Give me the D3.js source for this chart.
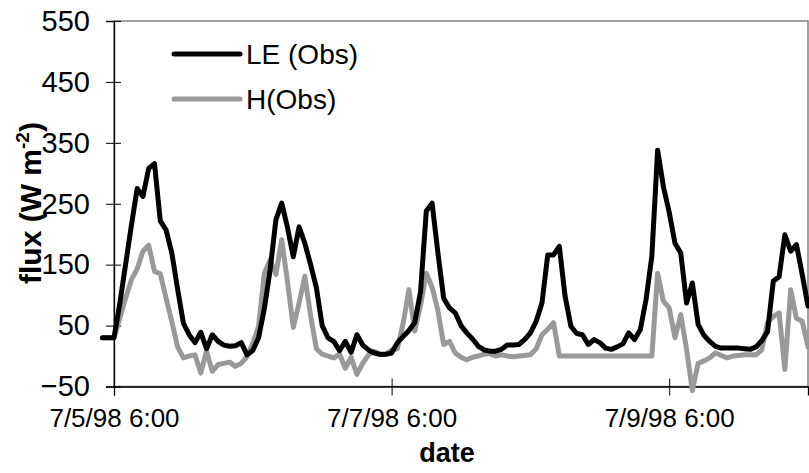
<!DOCTYPE html>
<html>
<head>
<meta charset="utf-8">
<script src="https://cdn.jsdelivr.net/npm/d3@7"></script>
<style>
  html, body { margin: 0; padding: 0; background: #fff; }
  svg { display: block; font-family: "Liberation Sans", Arial, sans-serif; }
</style>
</head>
<body>
<svg id="chart" width="809" height="473"></svg>
<script>
// ---- data (hourly observations, first record 7/5/98 4:00) ----
const seriesStart = "1998-07-05T04:00:00";
const leObs = [30, 30, 30,
  86, 150, 214, 275, 262, 308, 316, 222, 207, 169, 110, 54, 35, 22, 39, 12, 35, 24, 18, 16, 17, 22,
  2, 9, 30, 78, 142, 224, 251, 211, 163, 212, 185, 150, 112, 50, 30, 24, 9, 24, 6, 35, 18, 10, 5, 3,
  3, 5, 22, 32, 42, 55, 105, 238, 251, 170, 95, 79, 71, 50, 38, 28, 16, 10, 8, 8, 11, 18, 18, 19,
  27, 38, 57, 87, 166, 166, 180, 98, 49, 37, 35, 19, 27, 22, 13, 11, 15, 20, 38, 27, 43, 93, 164, 338,
  278, 236, 185, 169, 87, 120, 52, 34, 24, 16, 13, 13, 13, 13, 12, 11, 15, 25, 40, 123, 130, 199, 172, 183,
  134, 82];
const hObs = [30, 30, 30,
  62, 95, 125, 143, 172, 182, 139, 135, 95, 56, 15, -3, 0, 2, -28, 8, -25, -14, -12, -10, -17, -12,
  -1, 21, 49, 136, 158, 134, 191, 122, 47, 87, 131, 66, 12, 3, 0, -3, 3, -20, -2, -30, -12, 2, 8, 2,
  3, 10, 12, 54, 109, 41, 83, 136, 113, 75, 19, 24, 5, -2, -6, -2, 0, 3, 4, 0, 2, 0, -1, 0,
  1, 2, 12, 35, 44, 55, 0, 0, 0, 0, 0, 0, 0, 0, 0, 0, 0, 0, 0, 0, 0, 0, 0, 136,
  90, 79, 30, 68, 11, -57, -12, -8, -3, 5, 1, -3, 0, 1, 2, 2, 2, 10, 55, 65, 71, -22, 109, 62,
  57, 15];
const xDomain = ["1998-07-05T06:00:00", "1998-07-10T06:00:00"];
const xTickDates = ["1998-07-05T06:00:00", "1998-07-07T06:00:00", "1998-07-09T06:00:00"];
const xTickLabels = ["7/5/98 6:00", "7/7/98 6:00", "7/9/98 6:00"];
const yTicks = [-50, 50, 150, 250, 350, 450, 550];
const seriesNames = ["LE (Obs)", "H(Obs)"];
const seriesColors = ["#000000", "#999999"];

// ---- build ----
const parseT = d3.isoParse;
const t0 = parseT(seriesStart);
const times = leObs.map((_, i) => d3.timeHour.offset(t0, i));
const series = [leObs, hObs].map((vals, k) => ({
  name: seriesNames[k], color: seriesColors[k],
  values: vals.map((v, i) => ({ t: times[i], v }))
}));

const pL = 114, pR = 808, pT = 21, pB = 386.5;
const svg = d3.select("#chart");
const FONT = "Liberation Sans, Arial, sans-serif";

const x = d3.scaleTime().domain(xDomain.map(parseT)).range([pL, pR]);
const y = d3.scaleLinear().domain([-50, 550]).range([pB, pT]);

// plot-area border
svg.append("rect")
  .attr("x", pL).attr("y", pT)
  .attr("width", pR - pL).attr("height", pB - pT)
  .attr("fill", "none").attr("stroke", "#808080").attr("stroke-width", 1.5);

// y axis
const yAxis = d3.axisLeft(y).tickValues(yTicks).tickSize(8).tickPadding(16).tickFormat(d3.format("d"));
const gy = svg.append("g").attr("transform", `translate(${pL},0)`).call(yAxis);
gy.select(".domain").attr("stroke", "#000").attr("stroke-width", 1.3);
gy.selectAll(".tick line").attr("stroke", "#000").attr("x2", -8).attr("x1", 7);
gy.selectAll(".tick text").attr("font-size", 29).attr("fill", "#000").attr("font-family", FONT);

// x axis
const xAxis = d3.axisBottom(x).tickValues(xTickDates.map(parseT)).tickSize(9).tickPadding(13)
  .tickFormat((d, i) => xTickLabels[i]);
const gx = svg.append("g").attr("transform", `translate(0,${pB})`).call(xAxis);
gx.select(".domain").attr("stroke", "#000").attr("stroke-width", 1.3);
gx.selectAll(".tick line").attr("stroke", "#000").attr("y1", -8);
gx.selectAll(".tick text").attr("font-size", 26).attr("fill", "#000").attr("font-family", FONT);

// lines
const line = d3.line().x(d => x(d.t)).y(d => y(d.v));
svg.append("g").selectAll("path").data(series.slice().reverse()).join("path")
  .attr("d", d => line(d.values))
  .attr("fill", "none")
  .attr("stroke", d => d.color)
  .attr("stroke-width", 5)
  .attr("stroke-linejoin", "round")
  .attr("stroke-linecap", "round");

// legend
const legend = svg.append("g");
series.forEach((s, i) => {
  const ly = 54 + i * 45;
  legend.append("line").attr("x1", 174).attr("x2", 240).attr("y1", ly).attr("y2", ly)
    .attr("stroke", s.color).attr("stroke-width", 5).attr("stroke-linecap", "round");
  legend.append("text").attr("x", 246).attr("y", ly + 10)
    .attr("font-size", 28).attr("fill", "#000").text(s.name);
});

// axis titles
svg.append("text").attr("x", 447).attr("y", 462)
  .attr("text-anchor", "middle").attr("font-size", 27).attr("font-weight", "bold").text("date");

const yt = svg.append("text")
  .attr("transform", `translate(41,203) rotate(-90)`)
  .attr("text-anchor", "middle").attr("font-size", 30).attr("font-weight", "bold");
yt.append("tspan").text("flux (W m");
yt.append("tspan").attr("dy", -12).attr("font-size", 19).text("-2");
yt.append("tspan").attr("dy", 12).text(")");
</script>
</body>
</html>
